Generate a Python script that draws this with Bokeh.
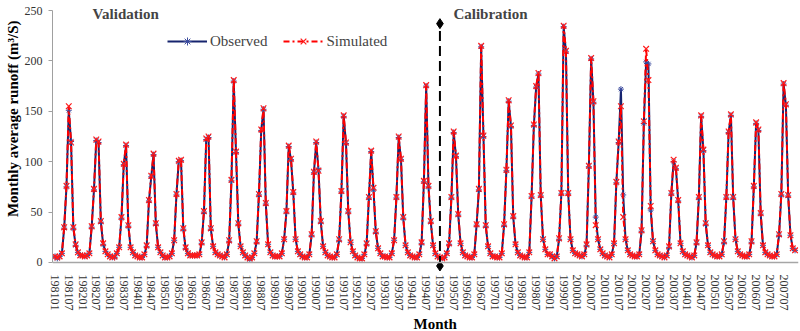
import math
from bokeh.plotting import figure
from bokeh.models import Range1d, FixedTicker, Span, Label, Legend, LegendItem, Title
from bokeh.embed import file_html
from bokeh.resources import INLINE

# ---------------- data ----------------
years = list(range(1981, 2008))
months = [f"{y}{m:02d}" for y in years for m in range(1, 13)]
tick_labels = [m for m in months if m.endswith("01") or m.endswith("07")]

observed = [
    6, 4, 6, 9, 34, 75, 151, 120, 34, 17, 10, 7,      # 1981
    7, 6, 7, 9, 35, 72, 121, 119, 40, 18, 11, 8,      # 1982
    6, 5, 5, 9, 15, 44, 97, 116, 36, 15, 10, 7,       # 1983
    6, 5, 5, 8, 16, 61, 85, 107, 38, 15, 10, 7,       # 1984
    5, 5, 6, 9, 22, 67, 100, 101, 33, 14, 9, 7,       # 1985
    7, 7, 7, 8, 19, 50, 122, 124, 33, 16, 10, 8,      # 1986
    7, 6, 5, 8, 21, 81, 180, 109, 38, 16, 10, 7,      # 1987
    5, 3, 5, 9, 20, 67, 131, 152, 58, 18, 10, 7,      # 1988
    6, 6, 6, 9, 23, 50, 115, 102, 69, 23, 11, 8,      # 1989
    6, 5, 5, 8, 27, 89, 119, 92, 40, 16, 10, 7,       # 1990
    6, 5, 5, 8, 22, 70, 145, 118, 50, 20, 11, 7,      # 1991
    5, 4, 4, 8, 18, 64, 110, 72, 30, 14, 9, 6,        # 1992
    6, 5, 5, 9, 22, 64, 124, 102, 44, 17, 10, 7,      # 1993
    6, 5, 5, 8, 19, 80, 175, 75, 40, 17, 9, 6,        # 1994
    5, 4, 5, 9, 18, 64, 129, 105, 47, 19, 10, 7,      # 1995
    6, 5, 5, 8, 37, 72, 214, 125, 36, 16, 9, 6,       # 1996
    6, 5, 5, 9, 37, 91, 160, 135, 45, 18, 10, 7,      # 1997
    6, 5, 5, 10, 65, 136, 174, 187, 66, 23, 13, 8,    # 1998
    8, 6, 4, 6, 23, 68, 234, 209, 68, 23, 12, 9,      # 1999
    8, 7, 6, 8, 17, 95, 202, 159, 45, 23, 13, 9,      # 2000
    7, 6, 5, 8, 19, 79, 119, 172, 67, 23, 12, 8,      # 2001
    7, 6, 6, 8, 31, 138, 199, 197, 52, 21, 12, 8,     # 2002
    7, 6, 5, 7, 15, 68, 100, 93, 61, 19, 11, 8,       # 2003
    7, 6, 5, 7, 19, 64, 145, 111, 38, 17, 10, 8,      # 2004
    7, 6, 6, 8, 20, 64, 129, 146, 64, 23, 11, 8,      # 2005
    7, 6, 6, 8, 20, 75, 138, 131, 48, 17, 10, 8,      # 2006
    7, 6, 6, 8, 27, 67, 177, 156, 66, 27, 14, 12,     # 2007
]

simulated = [
    6, 5, 6, 9, 35, 76, 155, 119, 35, 18, 10, 7,      # 1981
    7, 6, 7, 9, 36, 73, 122, 120, 41, 19, 11, 8,      # 1982
    6, 5, 6, 9, 15, 45, 98, 117, 37, 15, 10, 7,       # 1983
    6, 5, 5, 8, 17, 62, 86, 108, 39, 15, 10, 7,       # 1984
    5, 5, 6, 9, 22, 68, 101, 102, 34, 15, 9, 7,       # 1985
    7, 7, 7, 8, 20, 51, 123, 125, 34, 16, 10, 8,      # 1986
    7, 6, 5, 8, 22, 82, 181, 110, 39, 16, 10, 7,      # 1987
    5, 4, 5, 9, 21, 68, 132, 153, 59, 18, 10, 7,      # 1988
    6, 6, 6, 9, 23, 51, 116, 103, 70, 23, 11, 8,      # 1989
    6, 5, 5, 8, 28, 90, 120, 91, 41, 16, 10, 7,       # 1990
    6, 5, 5, 8, 23, 71, 146, 119, 51, 20, 11, 7,      # 1991
    5, 4, 4, 8, 19, 65, 111, 74, 31, 14, 9, 6,        # 1992
    6, 5, 5, 9, 22, 65, 125, 103, 45, 17, 10, 7,      # 1993
    6, 5, 5, 8, 20, 81, 176, 76, 41, 17, 9, 6,        # 1994
    5, 4, 5, 9, 19, 65, 130, 106, 48, 19, 10, 7,      # 1995
    6, 5, 5, 8, 38, 73, 215, 126, 37, 16, 9, 6,       # 1996
    6, 5, 5, 9, 38, 92, 161, 136, 46, 18, 10, 7,      # 1997
    6, 5, 5, 10, 66, 137, 175, 188, 67, 23, 13, 8,    # 1998
    8, 6, 4, 6, 24, 69, 235, 210, 69, 23, 12, 9,      # 1999
    8, 7, 6, 8, 18, 96, 203, 160, 37, 23, 13, 9,      # 2000
    7, 6, 5, 8, 19, 80, 120, 155, 45, 23, 12, 8,      # 2001
    7, 6, 6, 8, 32, 140, 212, 181, 56, 21, 12, 8,     # 2002
    7, 6, 5, 7, 16, 69, 102, 94, 62, 19, 11, 8,       # 2003
    7, 6, 5, 7, 20, 65, 146, 112, 39, 17, 10, 8,      # 2004
    7, 6, 6, 8, 21, 65, 130, 147, 65, 23, 11, 8,      # 2005
    7, 6, 6, 8, 21, 76, 139, 132, 49, 17, 10, 8,      # 2006
    7, 6, 6, 8, 28, 68, 178, 157, 67, 27, 14, 12,     # 2007
]

y_ticks = [0, 50, 100, 150, 200, 250]
calibration_start = "199501"
divider_values = [-3.5, 237]

# ---------------- figure ----------------
SERIF = "Liberation Serif"
NAVY = "#16246e"

x = list(range(len(months)))

p = figure(width=800, height=331, output_backend="svg", toolbar_location=None,
           x_range=Range1d(-1.1, 324.5), y_range=Range1d(-9, 254),
           min_border_left=52, min_border_right=2, min_border_top=6,
           min_border_bottom=59)
p.outline_line_color = None
p.grid.grid_line_color = None
p.background_fill_color = "white"

# x axis
p.xaxis.ticker = FixedTicker(ticks=[months.index(t) for t in tick_labels])
p.xaxis.major_label_overrides = {months.index(t): t for t in tick_labels}
p.xaxis.major_label_orientation = -math.pi / 2
p.xaxis.axis_line_color = None
p.xaxis.major_tick_line_color = None
p.xaxis.major_tick_out = 0
p.xaxis.major_tick_in = 0
p.xaxis.minor_tick_line_color = None
p.xaxis.minor_tick_out = 0
p.xaxis.minor_tick_in = 0
p.xaxis.major_label_standoff = 3
p.xaxis.major_label_text_font = SERIF
p.xaxis.major_label_text_font_size = "12px"
p.xaxis.major_label_text_color = "#333333"

# y axis
p.yaxis.ticker = FixedTicker(ticks=y_ticks)
p.yaxis.bounds = (0, 250)
p.yaxis.axis_line_color = "#a0a0a0"
p.yaxis.major_tick_line_color = "#a0a0a0"
p.yaxis.major_tick_out = 4
p.yaxis.major_tick_in = 0
p.yaxis.minor_tick_line_color = None
p.yaxis.minor_tick_out = 0
p.yaxis.minor_tick_in = 0
p.yaxis.major_label_standoff = 6
p.yaxis.major_label_text_font = SERIF
p.yaxis.major_label_text_font_size = "12px"
p.yaxis.major_label_text_color = "#333333"

# axis titles
p.add_layout(Title(text="Monthly average runoff (m\u00b3/S)", align="right", offset=14,
                   standoff=2, text_font=SERIF, text_font_style="bold",
                   text_font_size="15px", text_color="black"), "left")
p.add_layout(Title(text="Month", align="left", offset=361, standoff=0,
                   text_font=SERIF, text_font_style="bold",
                   text_font_size="15px", text_color="black"), "below")

# baseline at 0
p.add_layout(Span(location=0, dimension="width", line_color="#a6a6a6", line_width=1.5))

# series
r_obs_line = p.line(x, observed, line_color=NAVY, line_width=2)
r_obs_pts = p.scatter(x, observed, marker="asterisk", size=6, line_color="#3b4b9e", line_width=1)
r_sim_line = p.line(x, simulated, line_color="#ff0000", line_width=2, line_dash="6 3 2 3")
r_sim_pts = p.scatter(x, simulated, marker="x", size=8, line_color="#ff1a1a", line_width=1.2)

# calibration divider
idx = months.index(calibration_start)
p.line([idx, idx], divider_values, line_color="black", line_width=2, line_dash="10 5")
p.scatter([idx, idx], divider_values, marker="diamond", size=10, color="black")

legend = Legend(items=[LegendItem(label="Observed", renderers=[r_obs_line, r_obs_pts]),
                       LegendItem(label="Simulated", renderers=[r_sim_line, r_sim_pts])],
                location=(115, 220), orientation="horizontal",
                border_line_color=None, background_fill_alpha=0,
                padding=0, margin=0, spacing=16, glyph_width=40, glyph_height=20,
                label_standoff=3, label_text_font=SERIF, label_text_font_size="15px")
p.add_layout(legend)

# period annotations
p.add_layout(Label(x=16.4, y=247, text="Validation", text_font=SERIF, text_font_style="bold",
                   text_font_size="15px", text_baseline="middle", text_align="left"))
p.add_layout(Label(x=173.9, y=247, text="Calibration", text_font=SERIF, text_font_style="bold",
                   text_font_size="15px", text_baseline="middle", text_align="left"))

open("out.html", "w").write(file_html(p, INLINE))
